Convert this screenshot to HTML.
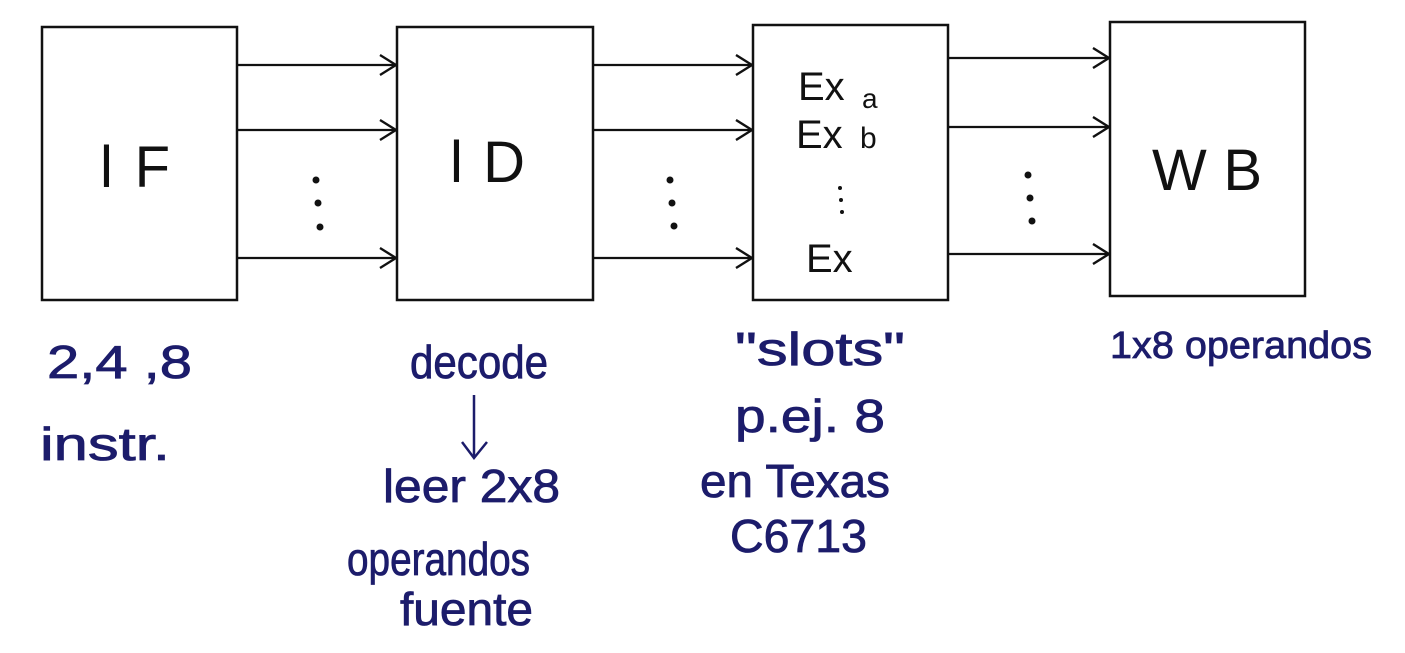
<!DOCTYPE html>
<html><head><meta charset="utf-8"><style>
html,body{margin:0;padding:0;background:#fff;}
svg{display:block}
text{font-family:"Liberation Sans",sans-serif;}
.b{fill:#1c1c6b;stroke:#1c1c6b;stroke-width:0.8}
.k{fill:#111}
</style></head><body>
<svg width="1405" height="653" viewBox="0 0 1405 653" xmlns="http://www.w3.org/2000/svg">
<defs><marker id="a" markerWidth="18" markerHeight="22" refX="17" refY="11" orient="auto" markerUnits="userSpaceOnUse">
<path d="M1,1 L17,11 L1,21" fill="none" stroke="#111" stroke-width="2.4"/></marker></defs>
<g fill="none" stroke="#111" stroke-width="2.5">
<rect x="42" y="27" width="195" height="273"/>
<rect x="397" y="27" width="196" height="273"/>
<rect x="753" y="25" width="195" height="275"/>
<rect x="1110" y="22" width="195" height="274"/>
</g>
<g stroke="#111" stroke-width="2.2" marker-end="url(#a)">
<line x1="237" y1="65" x2="396" y2="65"/>
<line x1="237" y1="130" x2="396" y2="130"/>
<line x1="237" y1="258" x2="396" y2="258"/>
<line x1="593" y1="65" x2="752" y2="65"/>
<line x1="593" y1="130" x2="752" y2="130"/>
<line x1="593" y1="258" x2="752" y2="258"/>
<line x1="948" y1="58" x2="1109" y2="58"/>
<line x1="948" y1="127" x2="1109" y2="127"/>
<line x1="948" y1="254" x2="1109" y2="254"/>
</g>
<g class="k">
<circle cx="316" cy="180" r="3.5"/><circle cx="318" cy="203" r="3.5"/><circle cx="320" cy="227" r="3.5"/>
<circle cx="670" cy="180" r="3.5"/><circle cx="672" cy="203" r="3.5"/><circle cx="674" cy="226" r="3.5"/>
<circle cx="1028" cy="175" r="3.5"/><circle cx="1030" cy="198" r="3.5"/><circle cx="1032" cy="221" r="3.5"/>
<circle cx="840" cy="188" r="2"/><circle cx="841" cy="200" r="2"/><circle cx="842" cy="212" r="2"/>
</g>
<g class="k" font-size="58">
<text x="100" y="187" textLength="70">lF</text>
<text x="450" y="182" textLength="75">lD</text>
<text x="1152" y="190" textLength="110">WB</text>
</g>
<g class="k" font-size="40">
<text x="798" y="100">Ex</text><text x="862" y="108" font-size="28">a</text>
<text x="796" y="148">Ex</text><text x="860" y="148" font-size="30">b</text>
<text x="806" y="272">Ex</text>
</g>
<g class="b" font-size="46">
<text x="47" y="378" textLength="145" lengthAdjust="spacingAndGlyphs">2,4 ,8</text>
<text x="40" y="460" textLength="130" lengthAdjust="spacingAndGlyphs">instr.</text>
<text x="410" y="378" textLength="138" lengthAdjust="spacingAndGlyphs">decode</text>
<text x="383" y="502" textLength="177" lengthAdjust="spacingAndGlyphs">leer  2x8</text>
<text x="347" y="575" textLength="183" lengthAdjust="spacingAndGlyphs">operandos</text>
<text x="400" y="625" textLength="133" lengthAdjust="spacingAndGlyphs">fuente</text>
<text x="735" y="365" textLength="170" lengthAdjust="spacingAndGlyphs">"slots"</text>
<text x="735" y="432" textLength="150" lengthAdjust="spacingAndGlyphs">p.ej. 8</text>
<text x="700" y="497" textLength="190" lengthAdjust="spacingAndGlyphs">en Texas</text>
<text x="730" y="552" textLength="137" lengthAdjust="spacingAndGlyphs">C6713</text>
<text x="1110" y="358" font-size="38" textLength="262" lengthAdjust="spacingAndGlyphs">1x8 operandos</text>
</g>
<g stroke="#1c1c6b" stroke-width="2.5" fill="none">
<line x1="474" y1="395" x2="474" y2="458"/>
<path d="M462,442 L474,458 L487,442"/>
</g>
</svg>
</body></html>
